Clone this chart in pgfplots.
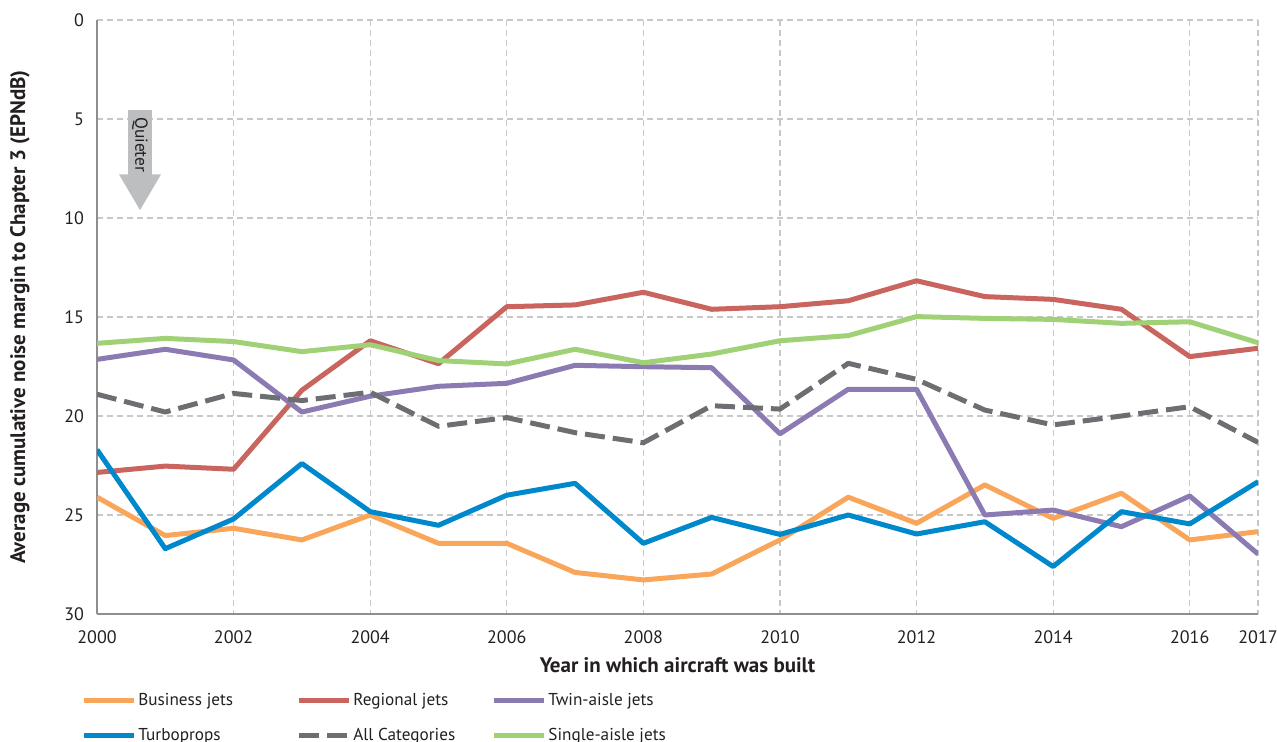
\documentclass[border=0pt]{standalone}
\usepackage{fontspec}
\setmainfont{PT Sans}
\usepackage{pgfplots}
\pgfplotsset{compat=1.18}
\definecolor{cBus}{HTML}{F9A65A}
\definecolor{cReg}{HTML}{C9645F}
\definecolor{cTwin}{HTML}{8C7BB3}
\definecolor{cTurbo}{HTML}{0088CC}
\definecolor{cAll}{HTML}{6D6E71}
\definecolor{cSingle}{HTML}{A0D177}
\definecolor{cArrow}{HTML}{BCBEC0}
\definecolor{cGrid}{HTML}{C8C8C8}
\definecolor{cAxis}{HTML}{8E8E8E}
\definecolor{cText}{HTML}{231F20}
\newcommand{\LE}[2]{\hspace{1pt}\makebox[#1][l]{#2}}
\begin{document}
\begin{tikzpicture}
\begin{axis}[
  scale only axis, width=580.5pt, height=297pt,
  xmin=2000, xmax=2017, ymin=0, ymax=30, y dir=reverse,
  xtick={2000,2002,2004,2006,2008,2010,2012,2014,2016,2017},
  ytick={0,5,10,15,20,25,30},
  /pgf/number format/1000 sep={},
  /pgf/number format/assume math mode=true,
  major tick length=0pt,
  axis x line*=bottom, axis y line*=left,
  axis line style={cAxis, line width=0.8pt, -},
  grid=major,
  major grid style={cGrid, line width=0.6pt, dash pattern=on 3pt off 2pt},
  tick label style={font=\fontsize{9}{10}\selectfont, text=cText},
  xticklabel style={yshift=-5pt},
  yticklabel style={xshift=-3pt},
  xlabel={Year in which aircraft was built},
  ylabel={Average cumulative noise margin to Chapter 3 (EPNdB)},
  label style={font=\bfseries\fontsize{10.5}{12}\selectfont, text=cText},
  xlabel style={at={(rel axis cs:0.5,0)}, anchor=center, yshift=-25.5pt},
  ylabel style={at={(rel axis cs:0,0.5)}, anchor=center, rotate=0, yshift=38.5pt},
  every axis plot/.append style={line width=2.5pt, line join=round},
  legend columns=3,
  legend image code/.code={\draw[#1] (0pt,2.3pt) -- (25pt,2.3pt);},
  legend style={at={(rel axis cs:0,0)}, anchor=north west, xshift=-8pt, yshift=-39pt,
    draw=none, fill=none, inner sep=0pt, row sep=8.85pt, column sep=0pt,
    font=\fontsize{8.6}{10}\selectfont, text=cText,
    nodes={inner sep=0pt, text height=6.5pt, text depth=2pt, anchor=base west}},
  legend cell align=left,
]
\fill[cArrow] (axis cs:2000.454,4.55) -- (axis cs:2000.805,4.55) -- (axis cs:2000.805,7.8)
  -- (axis cs:2000.937,7.8) -- (axis cs:2000.63,9.6) -- (axis cs:2000.322,7.8)
  -- (axis cs:2000.454,7.8) -- cycle;
\node[rotate=-90, font=\fontsize{8.7}{9}\selectfont, text=cText] at (axis cs:2000.63,6.3) {Quieter};

\addplot[cBus] coordinates {(2000,24.1)(2001,26.04)(2002,25.67)(2003,26.26)(2004,25.0)(2005,26.43)(2006,26.43)(2007,27.9)(2008,28.28)(2009,27.98)(2010,26.26)(2011,24.1)(2012,25.42)(2013,23.48)(2014,25.17)(2015,23.9)(2016,26.26)(2017,25.84)};
\addlegendentry{\LE{79pt}{Business jets}}
\addplot[cReg] coordinates {(2000,22.85)(2001,22.53)(2002,22.69)(2003,18.7)(2004,16.2)(2005,17.36)(2006,14.48)(2007,14.39)(2008,13.75)(2009,14.61)(2010,14.48)(2011,14.18)(2012,13.17)(2013,13.97)(2014,14.11)(2015,14.61)(2016,17.0)(2017,16.58)};
\addlegendentry{\LE{69pt}{Regional jets}}
\addplot[cTwin] coordinates {(2000,17.14)(2001,16.63)(2002,17.17)(2003,19.8)(2004,19.0)(2005,18.5)(2006,18.35)(2007,17.44)(2008,17.51)(2009,17.56)(2010,20.9)(2011,18.65)(2012,18.65)(2013,25.0)(2014,24.75)(2015,25.59)(2016,24.04)(2017,26.97)};
\addlegendentry{\LE{60pt}{Twin-aisle jets}}
\addplot[cTurbo] coordinates {(2000,21.7)(2001,26.7)(2002,25.2)(2003,22.4)(2004,24.83)(2005,25.52)(2006,24.0)(2007,23.4)(2008,26.43)(2009,25.12)(2010,25.98)(2011,25.0)(2012,25.96)(2013,25.34)(2014,27.6)(2015,24.83)(2016,25.45)(2017,23.32)};
\addlegendentry{\LE{79pt}{Turboprops}}
\addplot[cAll, dash pattern=on 10pt off 4pt] coordinates {(2000,18.9)(2001,19.8)(2002,18.86)(2003,19.22)(2004,18.8)(2005,20.52)(2006,20.08)(2007,20.84)(2008,21.35)(2009,19.48)(2010,19.65)(2011,17.34)(2012,18.15)(2013,19.7)(2014,20.45)(2015,20.0)(2016,19.53)(2017,21.33)};
\addlegendentry{\LE{69pt}{All Categories}}
\addplot[cSingle] coordinates {(2000,16.33)(2001,16.08)(2002,16.24)(2003,16.75)(2004,16.4)(2005,17.2)(2006,17.37)(2007,16.63)(2008,17.31)(2009,16.87)(2010,16.2)(2011,15.94)(2012,14.98)(2013,15.07)(2014,15.12)(2015,15.32)(2016,15.24)(2017,16.3)};
\addlegendentry{\LE{60pt}{Single-aisle jets}}
\end{axis}
\pgfresetboundingbox
\path (-48.5pt,-64pt) rectangle (590pt,307pt);
\end{tikzpicture}
\end{document}
